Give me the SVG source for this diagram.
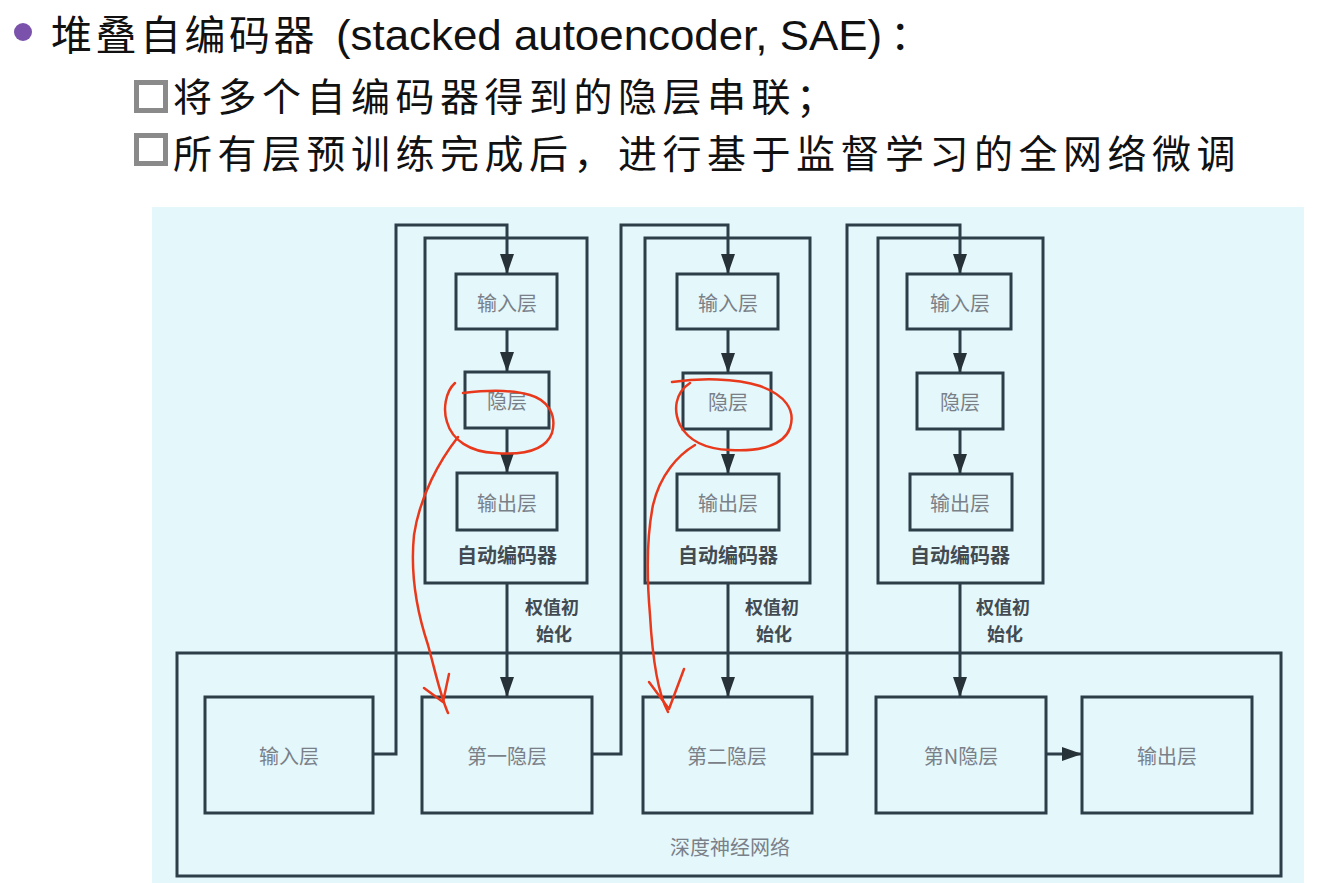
<svg xmlns="http://www.w3.org/2000/svg" width="1324" height="883" viewBox="0 0 1324 883">
<defs>
<marker id="ah" viewBox="0 0 20 14" refX="20" refY="7" markerWidth="20" markerHeight="14" markerUnits="userSpaceOnUse" orient="auto"><path d="M0,0 L20,7 L0,14 z" fill="#263238"/></marker>
<style>
.cjk{font-family:"Noto Sans CJK SC","Noto Sans",sans-serif;}
.hd{fill:#111;}
.box{fill:none;stroke:#2d3e48;stroke-width:3;}
.lbl{font-family:"Noto Sans CJK SC",sans-serif;font-size:20px;fill:#7a8088;text-anchor:middle;dominant-baseline:central;}
.dk{font-family:"Noto Sans CJK SC",sans-serif;font-size:20px;fill:#434b52;text-anchor:middle;dominant-baseline:central;font-weight:bold;}
.wt{font-family:"Noto Sans CJK SC",sans-serif;font-size:18px;fill:#434b52;text-anchor:middle;dominant-baseline:central;font-weight:bold;}
.con{fill:none;stroke:#2d3e48;stroke-width:3;}
.red{fill:none;stroke:#e8391d;stroke-width:2.5;stroke-linecap:round;stroke-linejoin:round;}
.chk{fill:none;stroke:#8a8a8a;stroke-width:5;}
</style>
</defs>
<rect width="1324" height="883" fill="#ffffff"/>
<g id="header">
<circle cx="23" cy="32" r="9" fill="#7b52ab"/>
<text class="cjk hd" x="51" y="50" font-size="41" letter-spacing="3.5">堆叠自编码器</text>
<text class="hd" x="336" y="50" font-size="42" font-family="Liberation Sans, sans-serif" textLength="546" lengthAdjust="spacingAndGlyphs">(stacked autoencoder, SAE)</text>
<text class="cjk hd" x="890" y="50" font-size="41">：</text>
<rect class="chk" x="136.5" y="82.5" width="29" height="28"/>
<text class="cjk hd" x="173" y="111" font-size="39" letter-spacing="5.5">将多个自编码器得到的隐层串联；</text>
<rect class="chk" x="136.5" y="135.5" width="29" height="28"/>
<text class="cjk hd" x="173" y="168" font-size="39" letter-spacing="5.5">所有层预训练完成后，进行基于监督学习的全网络微调</text>
</g>
<rect id="panel" x="152" y="207" width="1152" height="676" fill="#e4f7fb"/>
<g id="dnn">
<rect class="box" x="177" y="653" width="1104" height="223"/>
<text class="lbl" x="730" y="846" fill="#6a7078">深度神经网络</text>
</g>
<g id="dnn-input"><rect class="box" x="205" y="697" width="168" height="116"/><text class="lbl" x="289" y="755">输入层</text></g>
<g id="dnn-h1"><rect class="box" x="422" y="697" width="170" height="116"/><text class="lbl" x="507" y="755">第一隐层</text></g>
<g id="dnn-h2"><rect class="box" x="643" y="697" width="169" height="116"/><text class="lbl" x="727" y="755">第二隐层</text></g>
<g id="dnn-hn"><rect class="box" x="876" y="697" width="170" height="116"/><text class="lbl" x="961" y="755">第N隐层</text></g>
<g id="dnn-out"><rect class="box" x="1082" y="697" width="170" height="116"/><text class="lbl" x="1167" y="755">输出层</text></g>

<g id="ae1">
<rect class="box" x="425" y="238" width="162" height="345"/>
<rect class="box" x="456" y="274" width="101" height="55"/><text class="lbl" x="507" y="302">输入层</text>
<rect class="box" x="465" y="372" width="84" height="56"/><text class="lbl" x="507" y="400">隐层</text>
<rect class="box" x="457" y="473" width="100" height="57"/><text class="lbl" x="507" y="502">输出层</text>
<text class="dk" x="507" y="554">自动编码器</text>
</g>
<g id="ae2">
<rect class="box" x="645" y="238" width="165" height="345"/>
<rect class="box" x="677" y="274" width="101" height="55"/><text class="lbl" x="728" y="302">输入层</text>
<rect class="box" x="683" y="373" width="88" height="56"/><text class="lbl" x="728" y="401">隐层</text>
<rect class="box" x="677" y="474" width="102" height="56"/><text class="lbl" x="728" y="502">输出层</text>
<text class="dk" x="728" y="554">自动编码器</text>
</g>
<g id="ae3">
<rect class="box" x="878" y="238" width="165" height="345"/>
<rect class="box" x="907" y="274" width="104" height="55"/><text class="lbl" x="960" y="302">输入层</text>
<rect class="box" x="917" y="373" width="86" height="56"/><text class="lbl" x="960" y="401">隐层</text>
<rect class="box" x="910" y="474" width="102" height="56"/><text class="lbl" x="960" y="502">输出层</text>
<text class="dk" x="960" y="554">自动编码器</text>
</g>

<g id="connectors">
<path class="con" d="M373,754 H396 V225 H507 V274" marker-end="url(#ah)"/>
<path class="con" d="M592,754 H621 V225 H728 V274" marker-end="url(#ah)"/>
<path class="con" d="M812,754 H847 V225 H960 V274" marker-end="url(#ah)"/>
<path class="con" d="M507,329 V372" marker-end="url(#ah)"/>
<path class="con" d="M507,428 V473" marker-end="url(#ah)"/>
<path class="con" d="M728,329 V373" marker-end="url(#ah)"/>
<path class="con" d="M728,429 V474" marker-end="url(#ah)"/>
<path class="con" d="M960,329 V373" marker-end="url(#ah)"/>
<path class="con" d="M960,429 V474" marker-end="url(#ah)"/>
<path class="con" d="M507,583 V697" marker-end="url(#ah)"/>
<path class="con" d="M728,583 V697" marker-end="url(#ah)"/>
<path class="con" d="M960,583 V697" marker-end="url(#ah)"/>
<path class="con" d="M1046,754 H1082" marker-end="url(#ah)"/>
<text class="wt" x="552" y="606">权值初</text>
<text class="wt" x="554" y="633">始化</text>
<text class="wt" x="772" y="606">权值初</text>
<text class="wt" x="774" y="633">始化</text>
<text class="wt" x="1003" y="606">权值初</text>
<text class="wt" x="1005" y="633">始化</text>
</g>

<g id="annotations">
<path class="red" d="M455,383 C445,392 443,410 447,422 C452,440 470,452 495,453 C520,455 545,452 552,433 C557,415 548,400 530,395 C510,389 480,391 463,393"/>
<path class="red" d="M458,437 C440,460 420,495 414,535 C410,575 418,615 428,645 C435,670 440,695 448,713"/>
<path class="red" d="M424,688 L443,702 M449,674 L443,702"/>
<path class="red" d="M672,382 C700,378 735,378 760,386 C785,395 796,410 790,428 C784,445 760,452 730,450 C705,449 688,440 680,425 C673,410 675,393 690,383"/>
<path class="red" d="M695,445 C678,455 660,475 653,505 C646,540 647,580 650,615 C652,650 656,690 668,712"/>
<path class="red" d="M649,682 L669,709 M684,669 L669,709"/>
</g>
</svg>
